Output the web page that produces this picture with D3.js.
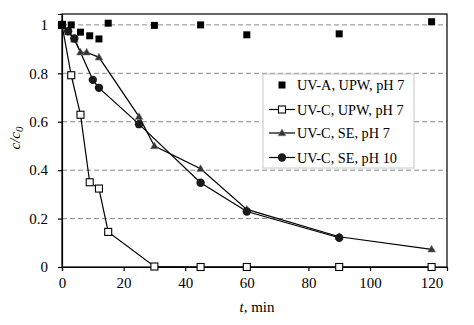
<!DOCTYPE html>
<html><head><meta charset="utf-8">
<script src="https://cdn.jsdelivr.net/npm/d3@7"></script>
<style>body{margin:0;background:#fff}svg text{font-family:"Liberation Serif","DejaVu Serif",serif;fill:#000}</style>
</head><body><svg id="c" width="474" height="325"></svg>
<script>
// Data
const timesUVA = [0, 3, 6, 9, 12, 15, 30, 45, 60, 90, 120];
const valsUVA = [1.0, 1.0, 0.97, 0.955, 0.942, 1.007, 0.998, 1.0, 0.959, 0.963, 1.013];
const timesUPW = [0, 3, 6, 9, 12, 15, 30, 45, 60, 90, 120];
const valsUPW = [1.0, 0.792, 0.629, 0.35, 0.324, 0.145, 0.002, 0.0, 0.0, 0.0, 0.0];
const timesSE7 = [0, 2, 4, 6, 8, 12, 25, 30, 45, 60, 90, 120];
const valsSE7 = [1.0, 0.97, 0.94, 0.887, 0.887, 0.866, 0.621, 0.5, 0.406, 0.238, 0.125, 0.073];
const timesSE10 = [0, 2, 4, 10, 12, 25, 45, 60, 90];
const valsSE10 = [1.0, 0.974, 0.944, 0.773, 0.74, 0.59, 0.348, 0.229, 0.121];
const xTicks = [0, 20, 40, 60, 80, 100, 120];
const yTicks = [0, 0.2, 0.4, 0.6, 0.8, 1];
const legendLabels = ["UV-A, UPW, pH 7", "UV-C, UPW, pH 7", "UV-C, SE, pH 7", "UV-C, SE, pH 10"];

const svg = d3.select("#c");
const L = 62, R = 447, T = 14, B = 267;
const x = d3.scaleLinear().domain([0, 125]).range([L, R]);
const y = d3.scaleLinear().domain([0, 1.045]).range([B, T]);

// grid
svg.append("g").selectAll("line").data(yTicks.filter(d => d > 0)).join("line")
  .attr("x1", L).attr("x2", R).attr("y1", d => y(d)).attr("y2", d => y(d))
  .attr("stroke", "#8a8a8a").attr("stroke-width", 1).attr("stroke-dasharray", "5,3");

// frame
svg.append("rect").attr("x", L).attr("y", T).attr("width", R - L).attr("height", B - T)
  .attr("fill", "none").attr("stroke", "#000").attr("stroke-width", 1.2);

// axes
const xa = svg.append("g").attr("transform", `translate(0,${B})`)
  .call(d3.axisBottom(x).tickValues(xTicks).tickSize(4).tickPadding(6).tickFormat(d3.format("d")));
const ya = svg.append("g").attr("transform", `translate(${L},0)`)
  .call(d3.axisLeft(y).tickValues(yTicks).tickSize(4).tickPadding(10).tickFormat(d => d === 0 ? "0" : d === 1 ? "1" : d3.format(".1f")(d)));
[xa, ya].forEach(a => {
  a.attr("font-family", null).attr("font-size", null);
  a.select(".domain").attr("stroke", "#000").attr("stroke-width", 1.2);
  a.selectAll(".tick line").attr("stroke", "#000").attr("stroke-width", 1.2);
  a.selectAll("text").attr("font-size", 15);
});

const line = d3.line().x(d => x(d[0])).y(d => y(d[1]));
const zip = (t, v) => t.map((d, i) => [d, v[i]]);
const dUVA = zip(timesUVA, valsUVA), dUPW = zip(timesUPW, valsUPW),
      dSE7 = zip(timesSE7, valsSE7), dSE10 = zip(timesSE10, valsSE10);

const lines = svg.append("g").attr("fill", "none").attr("stroke", "#000").attr("stroke-width", 1.2);
lines.append("path").attr("d", line(dSE7));
lines.append("path").attr("d", line(dSE10));
lines.append("path").attr("d", line(dUPW));

const tri = d3.symbol().type(d3.symbolTriangle).size(26);
// triangles
svg.append("g").selectAll("path").data(dSE7).join("path")
  .attr("d", tri).attr("transform", d => `translate(${x(d[0])},${y(d[1]) + 0.5})`)
  .attr("fill", "#333").attr("stroke", "#777").attr("stroke-width", 0.5);
// circles
svg.append("g").selectAll("circle").data(dSE10).join("circle")
  .attr("cx", d => x(d[0])).attr("cy", d => y(d[1])).attr("r", 4.2).attr("fill", "#1a1a1a");
// open squares
svg.append("g").selectAll("rect").data(dUPW).join("rect")
  .attr("x", d => x(d[0]) - 3.5).attr("y", d => y(d[1]) - 3.5).attr("width", 7).attr("height", 7)
  .attr("fill", "#fff").attr("stroke", "#000").attr("stroke-width", 1.1);
// filled squares
svg.append("g").selectAll("rect").data(dUVA).join("rect")
  .attr("x", d => x(d[0]) - 3.5).attr("y", d => y(d[1]) - 3.5).attr("width", 7).attr("height", 7)
  .attr("fill", "#000");

// axis titles
const xt = svg.append("text").attr("x", 257).attr("y", 312).attr("text-anchor", "middle").attr("font-size", 15);
xt.append("tspan").attr("font-style", "italic").text("t");
xt.append("tspan").text(", min");
const yt = svg.append("text").attr("transform", "translate(20,138) rotate(-90)").attr("text-anchor", "middle").attr("font-size", 15).attr("font-style", "italic");
yt.append("tspan").text("c/c");
yt.append("tspan").attr("font-size", 11).attr("dy", 3).text("0");

// legend
const lg = svg.append("g");
lg.append("rect").attr("x", 263).attr("y", 74).attr("width", 151).attr("height", 94)
  .attr("fill", "#fff").attr("stroke", "#c8c8c8").attr("stroke-width", 1);
const ly = [85, 109.5, 133, 157.5];
const sx = 282;
legendLabels.forEach((lab, i) => {
  const g = lg.append("g");
  if (i > 0) g.append("line").attr("x1", 269).attr("x2", 295).attr("y1", ly[i]).attr("y2", ly[i]).attr("stroke", "#000").attr("stroke-width", 1.2);
  if (i === 0) g.append("rect").attr("x", sx - 3.5).attr("y", ly[i] - 3.5).attr("width", 7).attr("height", 7).attr("fill", "#000");
  if (i === 1) g.append("rect").attr("x", sx - 3.5).attr("y", ly[i] - 3.5).attr("width", 7).attr("height", 7).attr("fill", "#fff").attr("stroke", "#000").attr("stroke-width", 1.1);
  if (i === 2) g.append("path").attr("d", tri).attr("transform", `translate(${sx},${ly[i] + 0.5})`).attr("fill", "#333").attr("stroke", "#777").attr("stroke-width", 0.5);
  if (i === 3) g.append("circle").attr("cx", sx).attr("cy", ly[i]).attr("r", 4.2).attr("fill", "#1a1a1a");
  g.append("text").attr("x", 297).attr("y", ly[i] + 5).attr("font-size", 14.3).text(lab);
});
</script></body></html>
